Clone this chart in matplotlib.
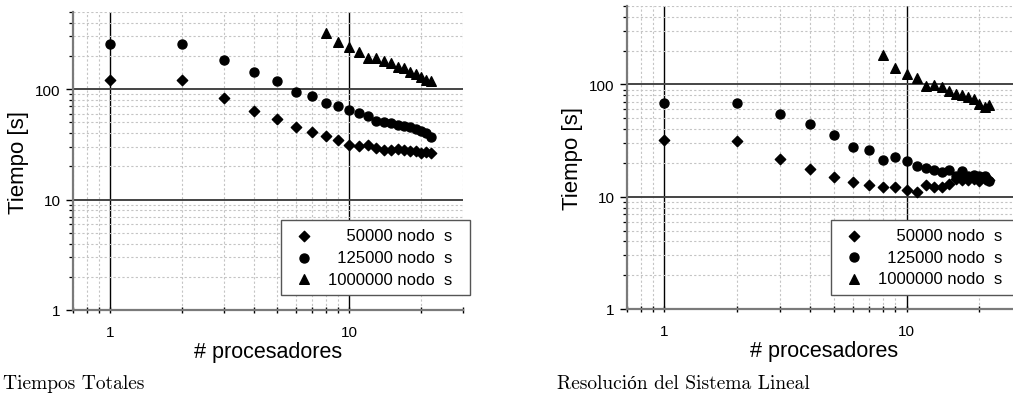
import matplotlib
matplotlib.use("Agg")
import matplotlib.pyplot as plt
from matplotlib.ticker import FormatStrFormatter, NullFormatter, LogLocator

plt.rcParams["font.family"] = ["Liberation Sans", "DejaVu Sans"]

# numero de procesadores
procs = list(range(1, 23))
procs_big = list(range(8, 23))

# Tiempos Totales [s]
tot_50k = [120, 120, 83, 64, 53.5, 45.3, 41.1, 37.3, 34.6, 31.4, 30.3, 31.4,
           29.2, 28.4, 28.0, 29.0, 28.0, 27.7, 27.5, 26.4, 26.9, 26.5]
tot_125k = [259, 259, 185, 142, 118, 95, 86.4, 75.7, 70.6, 65.0, 60.6, 56.6,
            52.0, 50.3, 49.2, 47.5, 46.6, 45.0, 43.5, 41.7, 40.5, 37.0]
tot_1m = [326, 268, 240, 218, 193, 191, 179, 171, 158, 154, 144.5, 137.6,
          129.4, 120.6, 119]

# Resolucion del sistema lineal [s]
lin_50k = [31.7, 31.6, 21.7, 17.5, 15.1, 13.4, 12.6, 12.2, 12.3, 11.4, 11.1, 12.7,
           12.3, 12.3, 12.9, 14.4, 14.2, 14.2, 14.4, 13.9, 14.4, 14.1]
lin_125k = [69, 69, 54.4, 44.9, 35.8, 27.6, 26.3, 21.3, 22.8, 20.7, 18.9, 17.9,
            17.2, 16.5, 17.2, 15.4, 16.8, 15.4, 15.7, 15.2, 15.4, 13.9]
lin_1m = [184, 141, 125, 115, 97, 99, 95, 88, 83, 80, 77, 73.5, 67, 62.4, 65]

# etiquetas alineadas a la derecha con espacios de cifra (U+2007)
labels = ["\u2007\u200750000 nodo  s\u2007",
          "\u2007125000 nodo  s\u2007",
          "1000000 nodo  s\u2007"]
captions = ["Tiempos Totales", "Resolución del Sistema Lineal"]

fig = plt.figure(figsize=(10.13, 4.06), dpi=100)
ax1 = fig.add_axes([73 / 1013, 95 / 406, 390 / 1013, 298 / 406])
ax2 = fig.add_axes([627 / 1013, 96 / 406, 395 / 1013, 303 / 406])


def draw_panel(ax, y50, y125, y1m, leg_anchor):
    ax.set_xscale("log")
    ax.set_yscale("log")
    ax.scatter(procs, y50, marker="D", s=28, color="k", zorder=3, label=labels[0])
    ax.scatter(procs, y125, marker="o", s=42, color="k", zorder=3, label=labels[1])
    ax.scatter(procs_big, y1m, marker="^", s=48, color="k", zorder=3, label=labels[2])
    ax.set_xlim(0.7, 30)
    ax.set_ylim(1, 500)

    for s in ["top", "right"]:
        ax.spines[s].set_visible(False)
    for s in ["left", "bottom"]:
        ax.spines[s].set_color("#7a7a7a")
        ax.spines[s].set_linewidth(1.6)

    ax.xaxis.set_major_locator(LogLocator(base=10))
    ax.xaxis.set_minor_locator(LogLocator(base=10, subs=range(2, 10)))
    ax.yaxis.set_minor_locator(LogLocator(base=10, subs=range(2, 10)))
    ax.xaxis.set_major_formatter(FormatStrFormatter("%g"))
    ax.yaxis.set_major_formatter(FormatStrFormatter("%g"))
    ax.xaxis.set_minor_formatter(NullFormatter())
    ax.yaxis.set_minor_formatter(NullFormatter())

    ax.tick_params(axis="y", which="major", direction="out", length=5, width=1, pad=4, labelsize=11)
    ax.tick_params(axis="y", which="minor", direction="out", length=3, width=0.9)
    ax.tick_params(axis="x", which="both", direction="inout", length=5, width=1, pad=8, labelsize=11)

    ax.grid(which="minor", linestyle=(0, (2, 2)), color="#c4c4c4", linewidth=0.8)
    ax.xaxis.grid(True, which="major", color="k", linewidth=1.0)
    ax.yaxis.grid(True, which="major", color="#444444", linewidth=1.4)
    ax.set_axisbelow(True)

    ax.set_xlabel("# procesadores", fontsize=15.5, labelpad=2)
    ax.set_ylabel("Tiempo [s]", fontsize=16, labelpad=4)

    leg = ax.legend(loc="upper right", bbox_to_anchor=leg_anchor, borderaxespad=0,
                    fontsize=12, fancybox=False, framealpha=1, edgecolor="#555555",
                    borderpad=0.5, handlelength=1.7, handletextpad=0.6,
                    labelspacing=0.4, scatterpoints=1)
    leg.get_frame().set_linewidth(1.0)
    leg.set_zorder(5)


draw_panel(ax1, tot_50k, tot_125k, tot_1m, (1.018, 0.302))
draw_panel(ax2, lin_50k, lin_125k, lin_1m, (0.995, 0.295))

fig.text(3 / 1013, 1 - 384 / 406, captions[0], va="center", ha="left",
         fontsize=14, family=["cmr10", "Liberation Serif"])
fig.text(557 / 1013, 1 - 384 / 406, captions[1], va="center", ha="left",
         fontsize=14, family=["cmr10", "Liberation Serif"])

fig.savefig("out.png", dpi=100)
